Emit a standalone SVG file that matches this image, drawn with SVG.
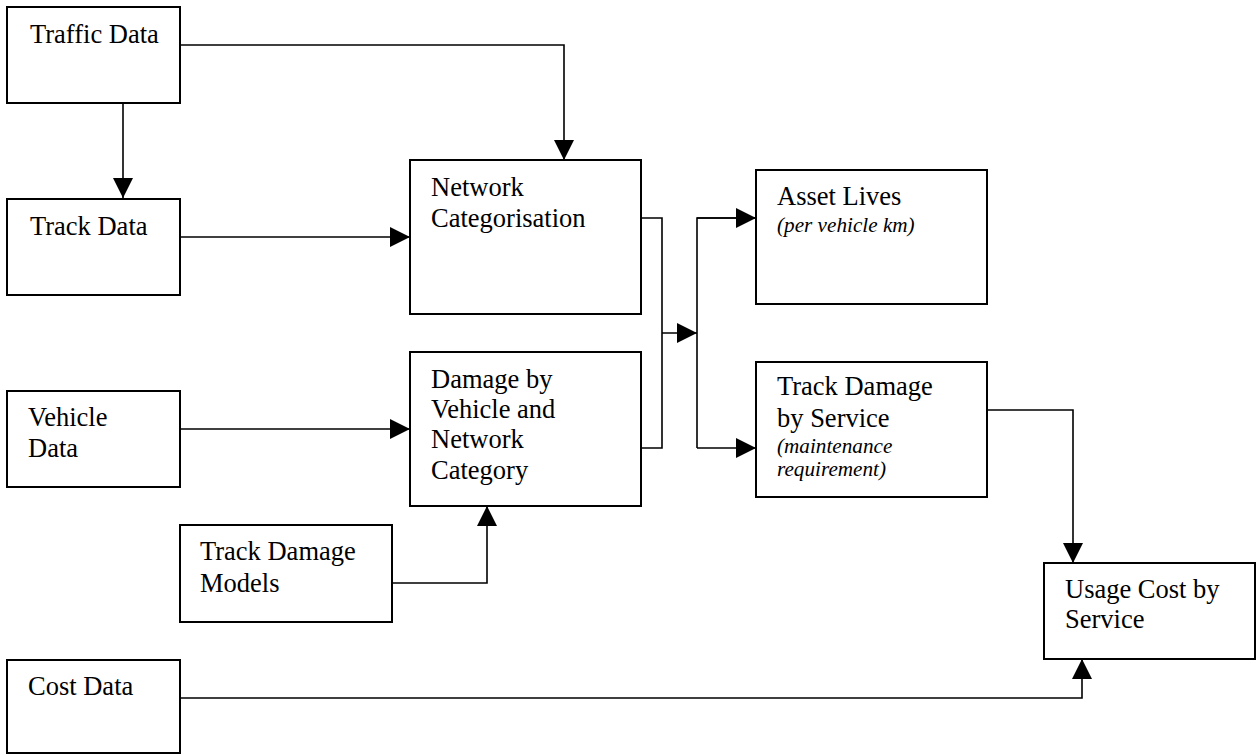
<svg xmlns="http://www.w3.org/2000/svg" width="1257" height="755" viewBox="0 0 1257 755">
<style>
.box{fill:#fff;stroke:#000;stroke-width:2}
.t{font-family:"Liberation Serif","Times New Roman",serif;font-size:26.5px;fill:#000}
.i{font-family:"Liberation Serif","Times New Roman",serif;font-size:21.2px;font-style:italic;fill:#000}
.c{fill:none;stroke:#000;stroke-width:1.6}
</style>
<defs>
<marker id="ah" markerUnits="userSpaceOnUse" markerWidth="20" markerHeight="20" refX="20" refY="10" orient="auto">
<path d="M0,0 L20,10 L0,20 z" fill="#000"/>
</marker>
</defs>
<rect width="1257" height="755" fill="#fff"/>
<g id="connectors">
<path class="c" d="M123,103 V198" marker-end="url(#ah)"/>
<path class="c" d="M180,45 H564 V160" marker-end="url(#ah)"/>
<path class="c" d="M180,237 H410" marker-end="url(#ah)"/>
<path class="c" d="M180,429 H410" marker-end="url(#ah)"/>
<path class="c" d="M392,583 H487 V506" marker-end="url(#ah)"/>
<path class="c" d="M641,218 H662 V448 H641"/>
<path class="c" d="M662,333 H697" marker-end="url(#ah)"/>
<path class="c" d="M756,218 H697 V448"/>
<path class="c" d="M697,218 H756" marker-end="url(#ah)"/>
<path class="c" d="M697,448 H756" marker-end="url(#ah)"/>
<path class="c" d="M987,410 H1073 V563" marker-end="url(#ah)"/>
<path class="c" d="M180,698 H1082 V659" marker-end="url(#ah)"/>
</g>
<g id="traffic-data">
<rect class="box" x="7" y="7" width="173" height="96"/>
<text class="t" x="30" y="43">Traffic Data</text>
</g>
<g id="track-data">
<rect class="box" x="7" y="199" width="173" height="96"/>
<text class="t" x="30" y="235">Track Data</text>
</g>
<g id="vehicle-data">
<rect class="box" x="7" y="391" width="173" height="96"/>
<text class="t" x="28" y="426">Vehicle</text>
<text class="t" x="28" y="457">Data</text>
</g>
<g id="cost-data">
<rect class="box" x="7" y="660" width="173" height="93"/>
<text class="t" x="28" y="695">Cost Data</text>
</g>
<g id="track-damage-models">
<rect class="box" x="180" y="525" width="212" height="97"/>
<text class="t" x="200" y="560">Track Damage</text>
<text class="t" x="200" y="592">Models</text>
</g>
<g id="network-categorisation">
<rect class="box" x="410" y="160" width="231" height="154"/>
<text class="t" x="431" y="196">Network</text>
<text class="t" x="431" y="227">Categorisation</text>
</g>
<g id="damage-by-vehicle">
<rect class="box" x="410" y="352" width="231" height="154"/>
<text class="t" x="431" y="388">Damage by</text>
<text class="t" x="431" y="418">Vehicle and</text>
<text class="t" x="431" y="448">Network</text>
<text class="t" x="431" y="479">Category</text>
</g>
<g id="asset-lives">
<rect class="box" x="756" y="170" width="231" height="134"/>
<text class="t" x="777" y="205">Asset Lives</text>
<text class="i" x="777" y="232">(per vehicle km)</text>
</g>
<g id="track-damage-by-service">
<rect class="box" x="756" y="362" width="231" height="135"/>
<text class="t" x="777" y="395">Track Damage</text>
<text class="t" x="777" y="427">by Service</text>
<text class="i" x="777" y="453">(maintenance</text>
<text class="i" x="777" y="476">requirement)</text>
</g>
<g id="usage-cost">
<rect class="box" x="1044" y="563" width="211" height="96"/>
<text class="t" x="1065" y="598">Usage Cost by</text>
<text class="t" x="1065" y="628">Service</text>
</g>
</svg>
